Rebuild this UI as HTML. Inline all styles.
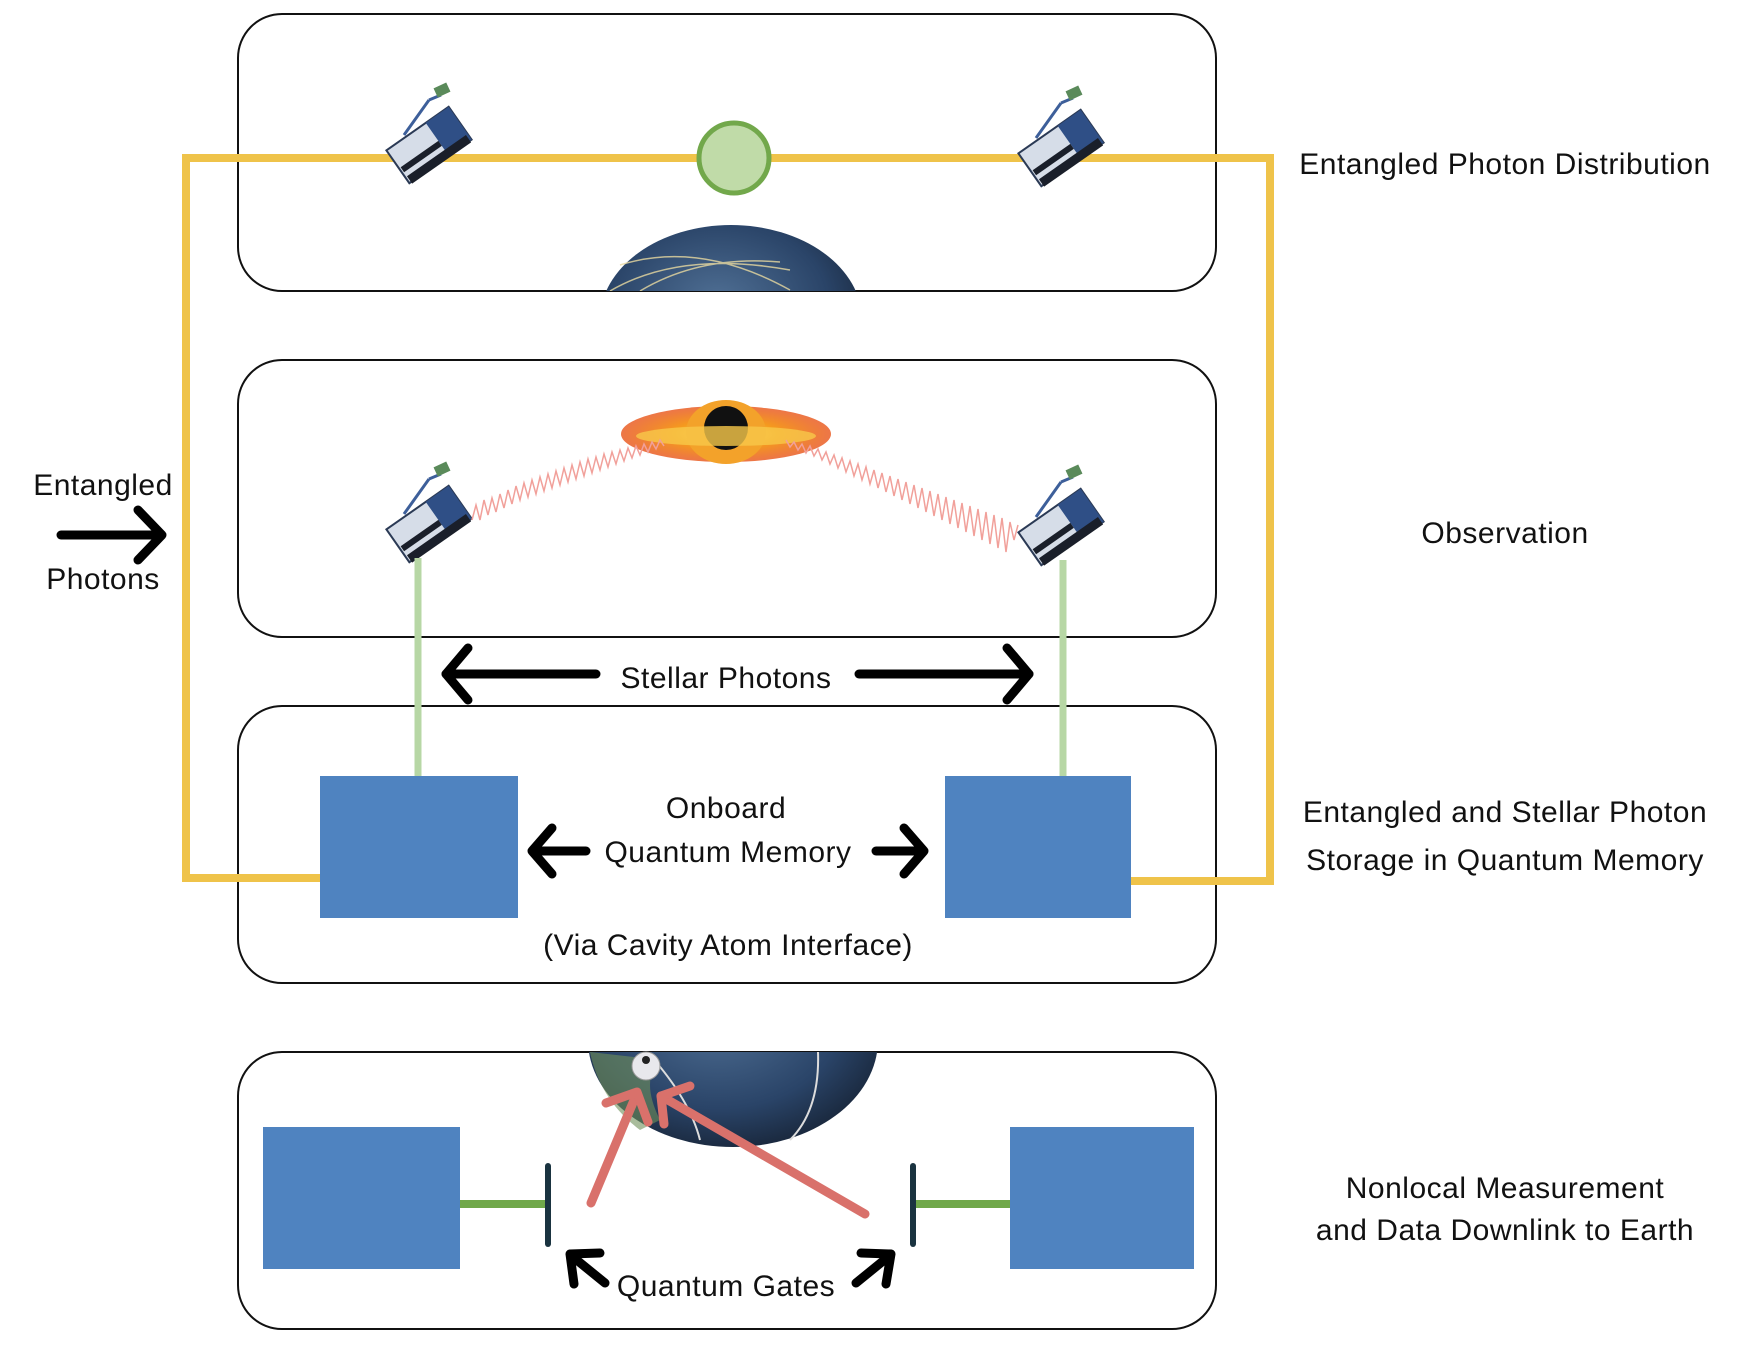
<!DOCTYPE html>
<html><head><meta charset="utf-8"><style>
html,body{margin:0;padding:0;background:#fff;}
svg{display:block;}
text{font-family:"Liberation Sans",sans-serif;font-size:30px;letter-spacing:0.5px;fill:#111;}
</style></head><body>
<svg width="1738" height="1350" viewBox="0 0 1738 1350" xmlns="http://www.w3.org/2000/svg">
<defs>
<radialGradient id="earth" cx="0.45" cy="0.4" r="0.7">
<stop offset="0" stop-color="#4f6f94"/><stop offset="0.6" stop-color="#2a4468"/><stop offset="1" stop-color="#131d2c"/>
</radialGradient>
<radialGradient id="bh" cx="0.5" cy="0.5" r="0.5">
<stop offset="0" stop-color="#ffe36a"/><stop offset="0.5" stop-color="#f59a1e"/><stop offset="1" stop-color="#e8541a" stop-opacity="0.8"/>
</radialGradient>
<g id="sat">
<line x1="-25" y1="-10" x2="0" y2="-45" stroke="#3d5f9a" stroke-width="3"/>
<line x1="0" y1="-45" x2="12" y2="-50" stroke="#3d5f9a" stroke-width="3"/>
<rect x="6" y="-60" width="14" height="10" fill="#5a8a5a" transform="rotate(-25 13 -55)"/>
<g transform="rotate(-35)">
<rect x="-38" y="-20" width="76" height="40" fill="#d6dde8" stroke="#2b3a55" stroke-width="2"/>
<rect x="10" y="-20" width="28" height="40" fill="#2f4f86"/>
<rect x="-36" y="2" width="46" height="6" fill="#1a1f2a"/>
<rect x="-36" y="13" width="72" height="9" fill="#1a1f2a"/>
</g>
</g>
</defs>

<g fill="none" stroke="#111" stroke-width="2">
<rect x="238" y="14" width="978" height="277" rx="44"/>
<rect x="238" y="360" width="978" height="277" rx="44"/>
<rect x="238" y="706" width="978" height="277" rx="44"/>
<rect x="238" y="1052" width="978" height="277" rx="44"/>
</g>

<clipPath id="c1"><rect x="560" y="200" width="340" height="91"/></clipPath>
<g clip-path="url(#c1)">
<ellipse cx="731" cy="320" rx="131" ry="95" fill="url(#earth)"/>
<path d="M610 291 Q680 250 790 270 M640 291 Q700 255 780 262 M620 265 Q700 240 790 290" stroke="#e8d9a0" stroke-width="1.5" fill="none" opacity="0.8"/>
</g>

<path d="M320 878 H186 V158 H1270 V881 H1131" fill="none" stroke="#efc34a" stroke-width="8"/>

<circle cx="734" cy="158" r="35" fill="#c0dba8" stroke="#72a84b" stroke-width="5"/>

<use href="#sat" transform="translate(429,145)"/>
<use href="#sat" transform="translate(1061,148)"/>
<use href="#sat" transform="translate(429,524)"/>
<use href="#sat" transform="translate(1061,527)"/>

<ellipse cx="726" cy="434" rx="105" ry="28" fill="url(#bh)"/>
<ellipse cx="726" cy="432" rx="40" ry="32" fill="#f3a22a"/>
<ellipse cx="726" cy="428" rx="22" ry="22" fill="#111"/>
<ellipse cx="726" cy="436" rx="90" ry="10" fill="#f8c84a" opacity="0.8"/>

<g fill="none" stroke="#f1a09a" stroke-width="1.5">
<polyline points="472,520 476,505 480,520 484,500 488,515 492,498 496,512 500,494 504,508 508,490 512,504 516,486 520,500 524,483 528,497 532,480 536,494 540,477 544,491 548,474 552,488 556,471 560,485 564,468 568,482 572,465 576,479 580,462 584,476 588,459 592,473 596,457 600,470 604,454 608,467 612,452 616,464 620,450 624,461 628,448 632,458 636,446 640,455 644,444 648,452 652,442 656,449 660,440 664,446"/>
<polyline points="786,440 790,447 794,442 798,450 802,444 806,453 810,446 814,456 818,449 822,460 826,452 830,464 834,455 838,468 842,458 846,472 850,461 854,476 858,464 862,480 866,467 870,484 874,470 878,488 882,473 886,492 890,476 894,496 898,479 902,500 906,482 910,504 914,485 918,508 922,488 926,512 930,491 934,516 938,494 942,520 946,497 950,524 954,500 958,528 962,503 966,532 970,506 974,536 978,509 982,540 986,512 990,544 994,515 998,548 1002,518 1006,552 1010,522 1014,540 1018,525"/>
</g>

<line x1="418" y1="558" x2="418" y2="776" stroke="#b7d7a5" stroke-width="7"/>
<line x1="1063" y1="560" x2="1063" y2="776" stroke="#b7d7a5" stroke-width="7"/>

<g fill="none" stroke="#000" stroke-width="9" stroke-linecap="round" stroke-linejoin="round">
<line x1="596" y1="674" x2="446" y2="674"/><polyline points="468,648 446,674 468,700"/>
<line x1="859" y1="674" x2="1029" y2="674"/><polyline points="1007,648 1029,674 1007,700"/>
<line x1="586" y1="851" x2="534" y2="851"/><polyline points="552,828 532,851 552,874"/>
<line x1="876" y1="851" x2="922" y2="851"/><polyline points="904,828 924,851 904,874"/>
<line x1="61" y1="535" x2="160" y2="535"/><polyline points="138,510 162,535 138,560"/>
<line x1="605" y1="1283" x2="573" y2="1257"/><polyline points="574,1284 570,1254 600,1253"/>
<line x1="856" y1="1283" x2="888" y2="1257"/><polyline points="886,1284 891,1254 861,1253"/>
</g>
<text x="726" y="688" text-anchor="middle">Stellar Photons</text>

<g fill="#4f83c0">
<rect x="320" y="776" width="198" height="142"/>
<rect x="945" y="776" width="186" height="142"/>
<rect x="263" y="1127" width="197" height="142"/>
<rect x="1010" y="1127" width="184" height="142"/>
</g>
<text x="726" y="818" text-anchor="middle">Onboard</text>
<text x="728" y="862" text-anchor="middle">Quantum Memory</text>
<text x="728" y="955" text-anchor="middle">(Via Cavity Atom Interface)</text>

<clipPath id="c2"><rect x="560" y="1052" width="340" height="110"/></clipPath>
<g clip-path="url(#c2)">
<ellipse cx="733" cy="1040" rx="145" ry="107" fill="url(#earth)"/>
<path d="M650 1055 Q690 1100 700 1140 M818 1052 Q820 1110 790 1140" stroke="#ddd" stroke-width="2" fill="none"/>
<path d="M590 1052 Q600 1100 640 1130 L660 1120 Q640 1080 660 1060 Z" fill="#6f8f5a" opacity="0.6"/>
</g>
<circle cx="646" cy="1066" r="14" fill="#e8e8ec" stroke="#999" stroke-width="1"/>
<circle cx="646" cy="1060" r="4" fill="#222"/>

<line x1="460" y1="1204" x2="546" y2="1204" stroke="#70a84a" stroke-width="8"/>
<line x1="912" y1="1204" x2="1010" y2="1204" stroke="#70a84a" stroke-width="8"/>
<line x1="548" y1="1166" x2="548" y2="1244" stroke="#1a3340" stroke-width="6" stroke-linecap="round"/>
<line x1="913" y1="1166" x2="913" y2="1244" stroke="#1a3340" stroke-width="6" stroke-linecap="round"/>

<g fill="none" stroke="#d9716b" stroke-width="9" stroke-linecap="round" stroke-linejoin="round">
<line x1="591" y1="1203" x2="637" y2="1093"/><polyline points="606,1103 637,1092 648,1122"/>
<line x1="865" y1="1214" x2="661" y2="1096"/><polyline points="664,1124 661,1096 690,1086"/>
</g>
<text x="726" y="1296" text-anchor="middle">Quantum Gates</text>

<text x="1505" y="174" text-anchor="middle">Entangled Photon Distribution</text>
<text x="1505" y="543" text-anchor="middle">Observation</text>
<text x="1505" y="822" text-anchor="middle">Entangled and Stellar Photon</text>
<text x="1505" y="870" text-anchor="middle">Storage in Quantum Memory</text>
<text x="1505" y="1198" text-anchor="middle">Nonlocal Measurement</text>
<text x="1505" y="1240" text-anchor="middle">and Data Downlink to Earth</text>
<text x="103" y="495" text-anchor="middle">Entangled</text>
<text x="103" y="589" text-anchor="middle">Photons</text>
</svg>
</body></html>
